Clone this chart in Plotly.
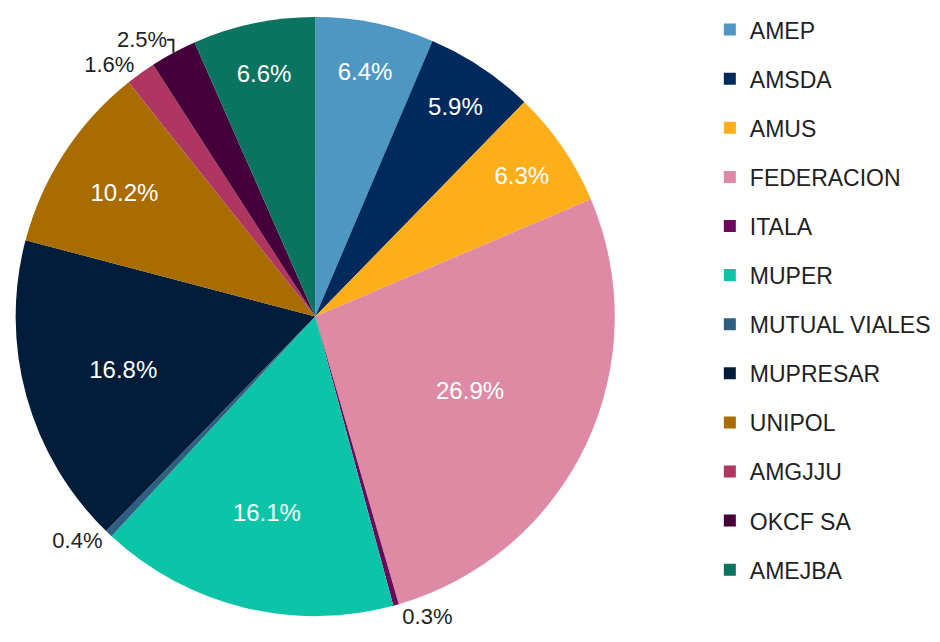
import plotly.graph_objects as go

# share by mutual (percent)
labels = [
    "AMEP", "AMSDA", "AMUS", "FEDERACION", "ITALA", "MUPER",
    "MUTUAL VIALES", "MUPRESAR", "UNIPOL", "AMGJJU", "OKCF SA", "AMEJBA",
]
shares = [6.4, 5.9, 6.3, 26.9, 0.3, 16.1, 0.4, 16.8, 10.2, 1.6, 2.5, 6.6]
colors = [
    "#4e97c2", "#002a5c", "#fdae1b", "#de8aa4", "#6a0a5a", "#0cc5a8",
    "#2f5f80", "#021d3a", "#a86c00", "#af3660", "#43003a", "#0a7461",
]
# small slices get their label outside
text_pos = ["outside" if s < 3 else "inside" for s in shares]

FONT = "Liberation Sans, Arial, sans-serif"

fig = go.Figure()
fig.add_trace(
    go.Pie(
        labels=labels,
        values=shares,
        sort=False,
        direction="clockwise",
        rotation=0,
        marker={"colors": colors, "line": {"width": 0}},
        texttemplate="%{percent:.1%}",
        textposition=text_pos,
        insidetextorientation="horizontal",
        insidetextfont={"color": "#ffffff", "size": 24, "family": FONT},
        outsidetextfont={"color": "#222222", "size": 22, "family": FONT},
        domain={"x": [0.0, 0.645], "y": [0.0535, 1.0]},
        showlegend=False,
        hoverinfo="label+percent",
    )
)

# legend entries as dummy traces so the spacing can be widened
for name, color in zip(labels, colors):
    fig.add_trace(
        go.Scatter(
            x=[None],
            y=[None],
            mode="markers",
            name=name,
            legendgroup=name,
            marker={"symbol": "square", "size": 12, "color": color},
        )
    )

fig.update_layout(
    width=940,
    height=642,
    margin={"l": 0, "r": 0, "t": 0, "b": 0},
    paper_bgcolor="#ffffff",
    plot_bgcolor="#ffffff",
    font={"family": FONT, "color": "#222222", "size": 23},
    xaxis={"visible": False},
    yaxis={"visible": False},
    legend={
        "x": 0.745,
        "y": 1.014,
        "xanchor": "left",
        "yanchor": "top",
        "maxheight": 642,
        "traceorder": "grouped",
        "tracegroupgap": 16.2,
        "itemwidth": 30,
        "font": {"size": 23, "family": FONT, "color": "#222222"},
    },
)

fig.write_html("out.html")
